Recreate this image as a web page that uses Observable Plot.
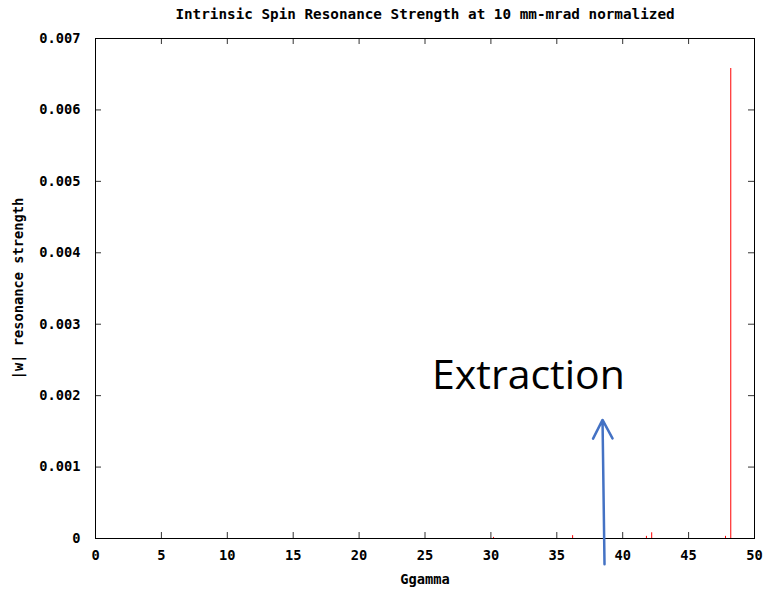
<!DOCTYPE html>
<html><head><meta charset="utf-8">
<script src="https://cdn.jsdelivr.net/npm/d3@7"></script>
<script src="https://cdn.jsdelivr.net/npm/@observablehq/plot@0.6"></script>
<style>html,body{margin:0;padding:0;background:#fff;overflow:hidden} svg{display:block}</style>
</head><body><div id="chart"></div>
<script>
// Resonance positions (G*gamma) and |w| strengths
const ggamma   = [30.2, 36.2, 41.8, 42.2, 47.8, 48.2];
const strength = [0.000015, 0.00004, 0.00003, 0.00008, 0.00003, 0.00658];

const xTicks = [0, 5, 10, 15, 20, 25, 30, 35, 40, 45, 50];
const yTicks = [0, 0.001, 0.002, 0.003, 0.004, 0.005, 0.006, 0.007];

const titleText = "Intrinsic Spin Resonance Strength at 10 mm-mrad normalized";
const xLabel = "Ggamma";
const yLabel = "|w| resonance strength";

// Annotation ("Extraction" with arrow)
const annotX = [32.85];
const annotY = [0.00209];
const annotText = ["Extraction"];
const arrowX1 = [38.62];
const arrowY1 = [-0.00036];
const arrowX2 = [38.47];
const arrowY2 = [0.00166];

const data = ggamma.map((g, i) => ({g, s: strength[i]}));
const annot = annotX.map((x, i) => ({x, y: annotY[i], t: annotText[i]}));
const arrows = arrowX1.map((x1, i) => ({x1, y1: arrowY1[i], x2: arrowX2[i], y2: arrowY2[i]}));
const yFmt = d => d === 0 ? "0" : d.toFixed(3);

const W = 765, H = 589, ML = 95, MR = 11, MT = 38, MB = 51;
const fw = W - ML - MR, fh = H - MT - MB, tk = 6;
const tickStroke = "#333";

const chart = Plot.plot({
  width: W, height: H,
  marginLeft: ML, marginRight: MR, marginTop: MT, marginBottom: MB,
  style: {fontFamily: "'DejaVu Sans Mono', monospace", fontSize: "13.7px", fontWeight: "bold", background: "#fff", color: "#000"},
  x: {domain: [0, 50]},
  y: {domain: [0, 0.007]},
  marks: [
    Plot.ruleX(data, {x: "g", y: "s", stroke: "#ff0000", strokeWidth: 1}),
    // inward ticks on all four sides
    Plot.ruleX(xTicks, {x: d => d, insetTop: fh - tk, stroke: tickStroke}),
    Plot.ruleX(xTicks, {x: d => d, insetBottom: fh - tk, stroke: tickStroke}),
    Plot.ruleY(yTicks, {y: d => d, insetRight: fw - tk, stroke: tickStroke}),
    Plot.ruleY(yTicks, {y: d => d, insetLeft: fw - tk, stroke: tickStroke}),
    Plot.frame({stroke: "#000", strokeWidth: 1}),
    Plot.axisX(xTicks, {anchor: "bottom", tickSize: 0, tickPadding: 12, label: null}),
    Plot.axisY(yTicks, {anchor: "left", tickSize: 0, tickPadding: 15, tickFormat: yFmt, label: null}),
    Plot.text([titleText], {frameAnchor: "top", dy: -24, text: d => d, lineAnchor: "middle", fontSize: 14.3}),
    Plot.text([xLabel], {frameAnchor: "bottom", dy: 41, text: d => d, lineAnchor: "middle"}),
    Plot.text([yLabel], {frameAnchor: "left", dx: -77, rotate: -90, text: d => d, textAnchor: "middle", lineAnchor: "middle"}),
    Plot.arrow(arrows, {x1: "x1", y1: "y1", x2: "x2", y2: "y2", stroke: "#4472C4", strokeWidth: 2.5, headLength: 12.6, headAngle: 55}),
    Plot.text(annot, {x: "x", y: "y", text: "t", fontFamily: "'Open Sans', sans-serif", fontSize: 41, fontWeight: "normal", lineAnchor: "bottom", textAnchor: "middle", fill: "#000"})
  ]
});
document.getElementById("chart").append(chart);
</script>
</body></html>
